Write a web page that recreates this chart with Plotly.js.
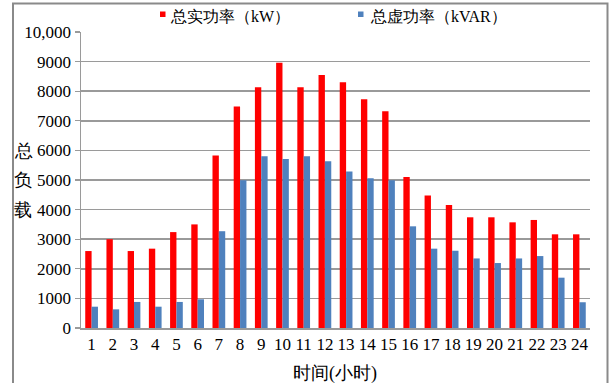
<!DOCTYPE html>
<html>
<head>
<meta charset="utf-8">
<script src="https://cdn.plot.ly/plotly-3.0.1.min.js"></script>
<style>
html,body{margin:0;padding:0;background:#fff;}
#chart{width:612px;height:383px;}
</style>
</head>
<body>
<div id="chart"></div>
<script>
// Data
var hours = ["1","2","3","4","5","6","7","8","9","10","11","12","13","14","15","16","17","18","19","20","21","22","23","24"];
var realPower = [2600,3000,2600,2680,3240,3500,5830,7480,8130,8960,8130,8550,8300,7725,7320,5100,4480,4155,3740,3740,3570,3650,3165,3165];
var reactivePower = [720,630,880,720,880,970,3270,4990,5800,5710,5800,5630,5290,5055,4990,3435,2680,2610,2350,2195,2350,2430,1700,870];
var yTickVals = [0,1000,2000,3000,4000,5000,6000,7000,8000,9000,10000];
var yTickText = ["0","1000","2000","3000","4000","5000","6000","7000","8000","9000","10,000"];
var seriesNames = ["总实功率（kW）","总虚功率（kVAR）"];
var xTitle = "时间(小时)";
var yTitleChars = ["总","负","载"];

// Layout geometry (pixels)
var W = 612, H = 383;
var L = 81, R = 590, T = 32, B = 328;
function px(x){ return (x - L) / (R - L); }
function py(y){ return (B - y) / (B - T); }

var serif = "Liberation Serif";
var gridCol = "#9a9a9a";

var traces = [
  {type:"bar", name:seriesNames[0], x:hours, y:realPower, marker:{color:"#ff0000"}, showlegend:false, hoverinfo:"x+y"},
  {type:"bar", name:seriesNames[1], x:hours, y:reactivePower, marker:{color:"#4f81bd"}, showlegend:false, hoverinfo:"x+y"}
];

var annotations = [
  {text:seriesNames[0], xref:"paper", yref:"paper", x:px(168), y:py(16), xanchor:"left", yanchor:"middle", showarrow:false, font:{family:serif, size:16, color:"#000"}},
  {text:seriesNames[1], xref:"paper", yref:"paper", x:px(368), y:py(16), xanchor:"left", yanchor:"middle", showarrow:false, font:{family:serif, size:16, color:"#000"}},
  {text:xTitle, xref:"paper", yref:"paper", x:px(335), y:py(373), xanchor:"center", yanchor:"middle", showarrow:false, font:{family:serif, size:18, color:"#000"}}
];
var yCharPos = [151, 180, 210];
for (var i = 0; i < yTitleChars.length; i++) {
  annotations.push({text:yTitleChars[i], xref:"paper", yref:"paper", x:px(23), y:py(yCharPos[i]), xanchor:"center", yanchor:"middle", showarrow:false, font:{family:serif, size:18, color:"#000"}});
}

var shapes = [
  // outer frame
  {type:"rect", xref:"paper", yref:"paper", x0:px(13), x1:px(607.5), y0:py(400), y1:py(3.5), line:{color:"#8a8a8a", width:2}, fillcolor:"rgba(0,0,0,0)", layer:"below"},
  // legend swatches
  {type:"rect", xref:"paper", yref:"paper", x0:px(160), x1:px(165.5), y0:py(17), y1:py(11.5), line:{width:0}, fillcolor:"#ff0000"},
  {type:"rect", xref:"paper", yref:"paper", x0:px(358), x1:px(363.5), y0:py(17), y1:py(11.5), line:{width:0}, fillcolor:"#4f81bd"}
];

var layout = {
  width:W, height:H,
  margin:{l:L, r:W-R, t:T, b:H-B, pad:0},
  paper_bgcolor:"#ffffff", plot_bgcolor:"#ffffff",
  barmode:"group", bargap:0.4, bargroupgap:0,
  showlegend:false,
  font:{family:serif, size:17, color:"#000"},
  xaxis:{
    type:"category", showgrid:false, showline:true, linecolor:gridCol, linewidth:1.5,
    ticks:"", tickfont:{family:serif, size:17, color:"#000"}, fixedrange:true, zeroline:false
  },
  yaxis:{
    range:[0,10000], tickvals:yTickVals, ticktext:yTickText,
    showgrid:true, gridcolor:gridCol, gridwidth:1.5,
    showline:true, linecolor:gridCol, linewidth:1.5,
    ticks:"outside", ticklen:5, tickcolor:gridCol, tickwidth:1.2,
    tickfont:{family:serif, size:17, color:"#000"}, zeroline:false, fixedrange:true
  },
  annotations:annotations,
  shapes:shapes
};

Plotly.newPlot("chart", traces, layout, {displayModeBar:false, staticPlot:true});
</script>
</body>
</html>
